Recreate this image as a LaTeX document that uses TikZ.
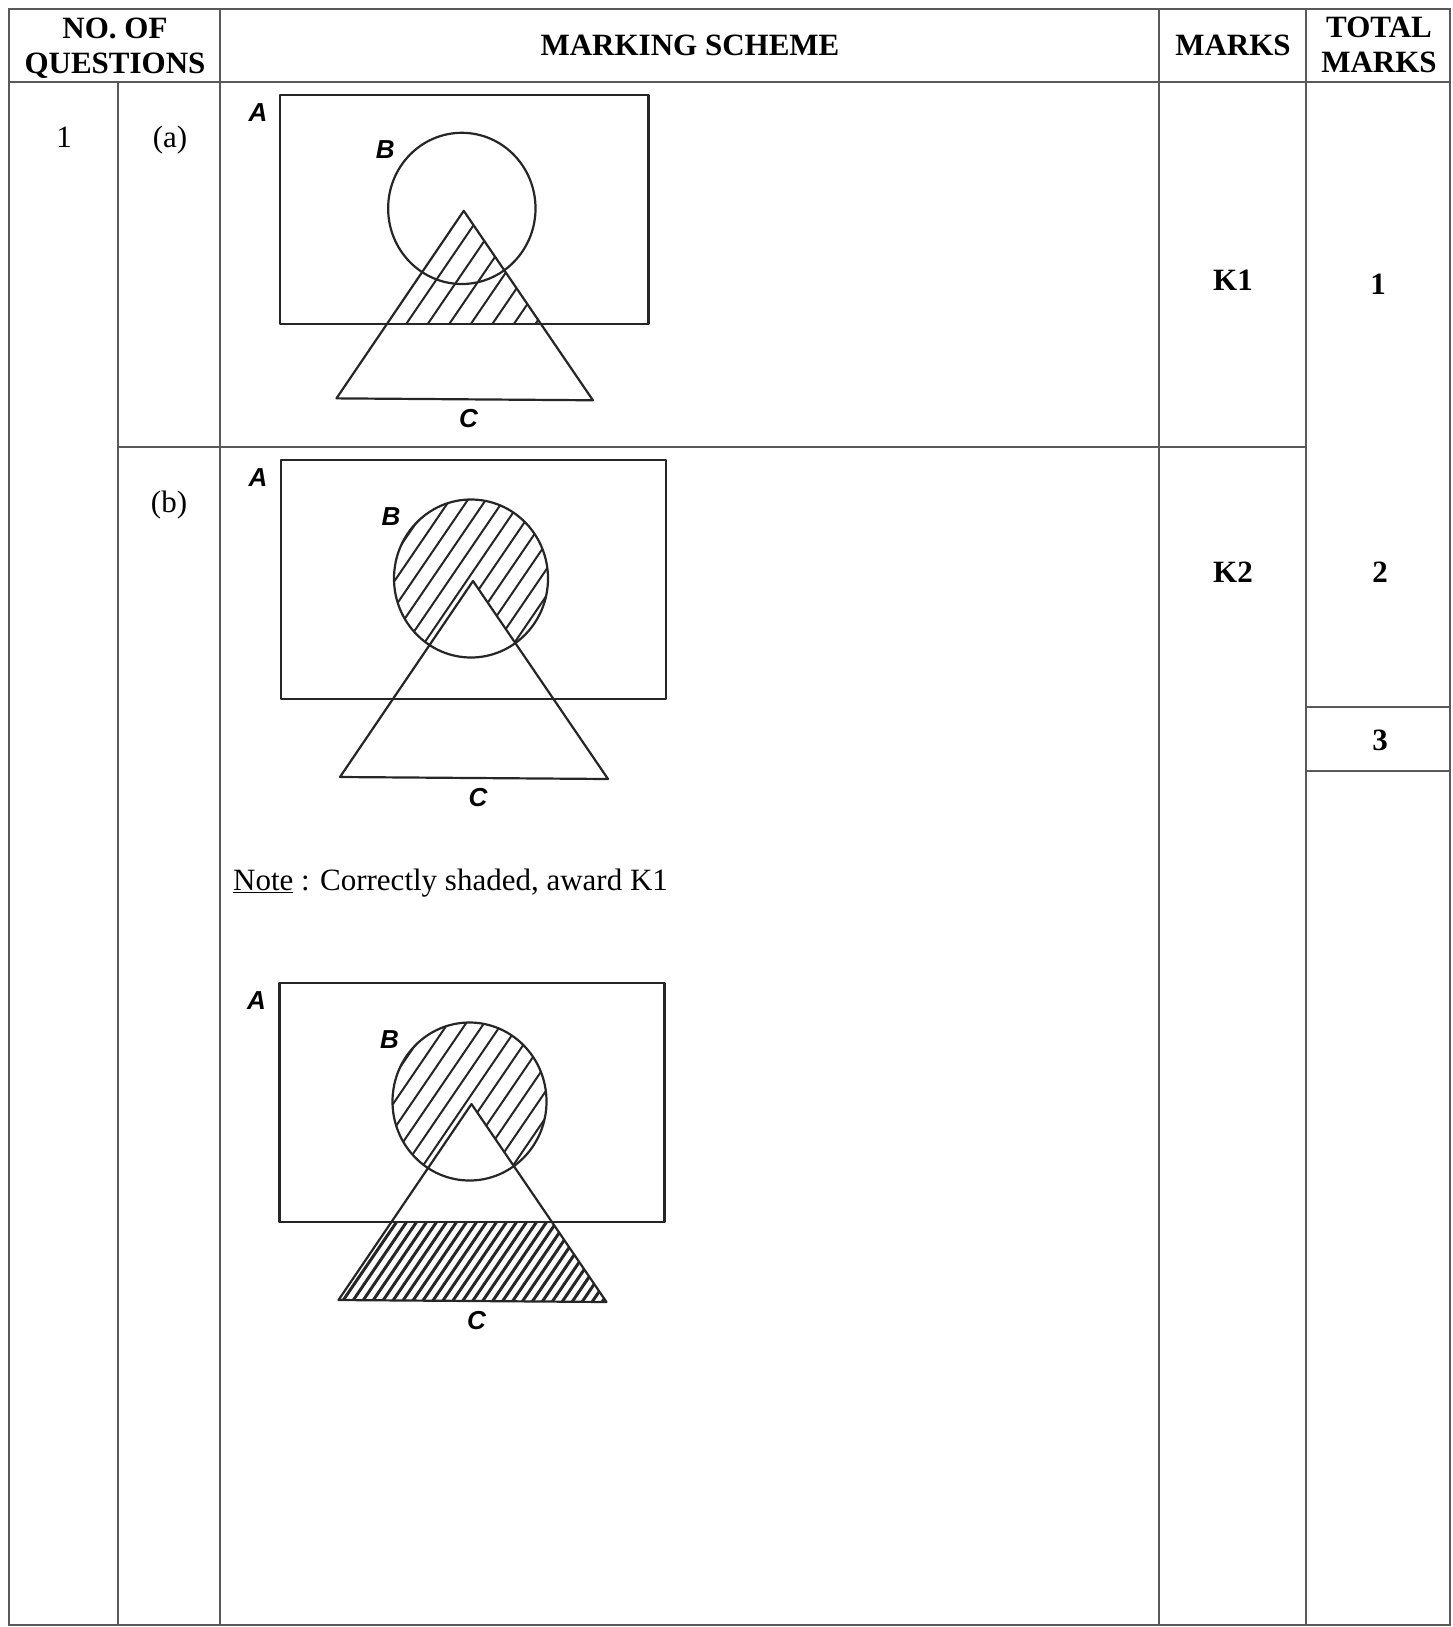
\documentclass[tikz,border=0pt]{standalone}
\usepackage{fontspec}
\setmainfont{Liberation Serif}
\newfontfamily\vennsans{Liberation Sans}
\newcommand{\bodysize}{\fontsize{31}{35}\selectfont}
\tikzset{
    tableline/.style={line width=1.6pt,draw=black!65},
    headtext/.style={font=\bodysize\bfseries,align=center},
    celltext/.style={font=\bodysize,inner sep=0pt},
    marktext/.style={font=\bodysize\bfseries},
    vennline/.style={line width=2.2pt,draw=black!85,line join=round},
    vennlabel/.style={font=\fontsize{26}{28}\selectfont\vennsans\bfseries\itshape,inner sep=0pt},
    hatchline/.style={draw=black!85,line cap=butt}
}
% corner points of one Venn frame (A rectangle, B circle, C triangle)
\newcommand{\vennpoints}{%
    \coordinate (tl) at (0,0);
    \coordinate (br) at (385,239);
    \coordinate (cb) at (190,118.5);
    \coordinate (apex) at (192,121);
    \coordinate (bl) at (59,317);
    \coordinate (bright) at (327,319);
}
\newcommand{\circleB}{(cb) ellipse [x radius=77,y radius=79]}
\newcommand{\triangleC}{(apex) -- (bl) -- (bright) -- cycle}
% slanted hatching inside the current clip: #1 gap along x, #2 line width
\newcommand{\hatchlines}[2]{%
    \foreach \k in {0,...,80}
        \draw[hatchline,line width=#2] (-320+\k*#1,440) -- ++(300,-440);
}
\newcommand{\vennframe}{%
    \draw[vennline] (tl) rectangle (br);
    \draw[vennline] \circleB;
    \draw[vennline] \triangleC;
    \node[vennlabel] (labA) at (-23,18) {A};
    \node[vennlabel] (labB) at (110,57) {B};
    \node[vennlabel] (labC) at (197,338) {C};
}

\begin{document}
\begin{tikzpicture}[x=1pt,y=-1pt]
    \useasboundingbox (0,0) rectangle (1452,1627);
    % table rules
    \coordinate (nw) at (9,9);
    \coordinate (se) at (1450,1625);
    \draw[tableline] (nw) rectangle (se);
    \draw[tableline] (9,82) -- (1450,82);
    \foreach \x in {220,1159,1306}
        \draw[tableline] (\x,9) -- (\x,1625);
    \draw[tableline] (118,82) -- (118,1625);
    \draw[tableline] (118,447) -- (1306,447);
    \draw[tableline] (1306,707) -- (1450,707);
    \draw[tableline] (1306,771) -- (1450,771);
    % header
    \node[headtext] (hq) at (115,48) {NO. OF\\QUESTIONS};
    \node[headtext] (hs) at (690,45) {MARKING SCHEME};
    \node[headtext] (hm) at (1233,45) {MARKS};
    \node[headtext] (ht) at (1379,45) {TOTAL\\MARKS};
    % cells
    \node[celltext] (qone) at (64,137) {1};
    \node[celltext] (qa) at (170,140) {(a)};
    \node[celltext] (qb) at (169,505) {(b)};
    \node[marktext] (ka) at (1233,280) {K1};
    \node[marktext] (ta) at (1378,284) {1};
    \node[marktext] (kb) at (1233,572) {K2};
    \node[marktext] (tb) at (1380,572) {2};
    \node[marktext] (tsum) at (1380,740) {3};
    \node[celltext,anchor=west] (note) at (233,883) {\underline{Note} : Correctly shaded, award K1};
    % (a): C inside A
    \begin{scope}[shift={(280,95)},scale=0.957]
        \vennpoints
        \begin{scope}
            \clip (tl) rectangle (br);
            \clip \triangleC;
            \hatchlines{22.5}{2pt}
        \end{scope}
        \vennframe
    \end{scope}
    % (b): B outside C
    \begin{scope}[shift={(281,460)}]
        \vennpoints
        \begin{scope}[even odd rule]
            \clip \circleB;
            \clip \circleB \triangleC;
            \hatchlines{18}{2pt}
        \end{scope}
        \vennframe
    \end{scope}
    % (b): B outside C, and C outside A
    \begin{scope}[shift={(279.5,983)}]
        \vennpoints
        \begin{scope}[even odd rule]
            \clip \circleB;
            \clip \circleB \triangleC;
            \hatchlines{18}{2pt}
        \end{scope}
        \begin{scope}
            \clip \triangleC;
            \clip (0,239) rectangle (385,330);
            \hatchlines{10}{3pt}
        \end{scope}
        \vennframe
    \end{scope}
\end{tikzpicture}
\end{document}
